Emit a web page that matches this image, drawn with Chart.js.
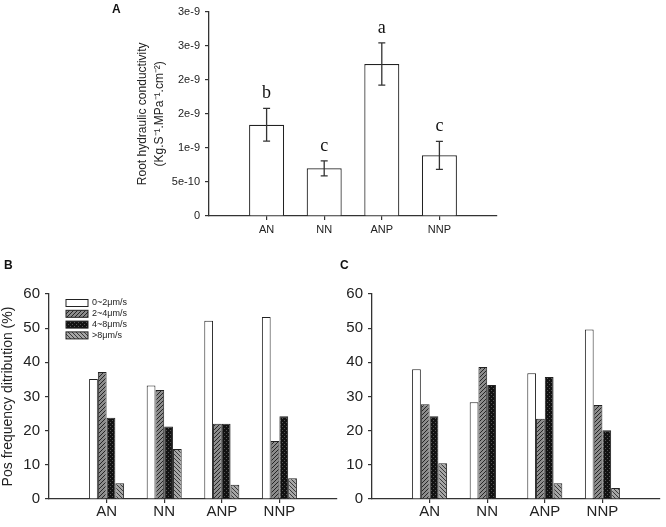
<!DOCTYPE html>
<html>
<head>
<meta charset="utf-8">
<script src="https://cdn.jsdelivr.net/npm/chart.js@4.4.0/dist/chart.umd.min.js"></script>
<style>
  body { margin: 0; background: #fff; width: 666px; height: 527px; position: relative; overflow: hidden; font-family: "Liberation Sans", Arial, sans-serif; }
  canvas { position: absolute; }
  .tag { position: absolute; font-weight: bold; font-size: 12px; color: #111; z-index: 2; }
</style>
</head>
<body>
<span class="tag" style="left:112px;top:2px">A</span>
<span class="tag" style="left:4px;top:258px">B</span>
<span class="tag" style="left:340px;top:258px">C</span>
<canvas id="chartA" width="520" height="245" style="left:0;top:0"></canvas>
<canvas id="chartB" width="345" height="267" style="left:0;top:260px"></canvas>
<canvas id="chartC" width="321" height="267" style="left:345px;top:260px"></canvas>
<script>
const categories = ['AN', 'NN', 'ANP', 'NNP'];

// panel A - root hydraulic conductivity
const conductivity = [1.34e-9, 0.70e-9, 2.23e-9, 0.89e-9];
const conductivityErr = [0.24e-9, 0.11e-9, 0.31e-9, 0.205e-9];
const letters = ['b', 'c', 'a', 'c'];
const yTicksA = ['0', '5e-10', '1e-9', '2e-9', '2e-9', '3e-9', '3e-9'];

// panels B and C - frequency distribution (%)
const speedClasses = ['0~2μm/s', '2~4μm/s', '4~8μm/s', '>8μm/s'];
const freqB_0_2 = [35.1, 33.2, 52.2, 53.3];
const freqB_2_4 = [37.2, 31.9, 22.0, 17.0];
const freqB_4_8 = [23.8, 21.2, 22.0, 24.2];
const freqB_8 = [4.6, 14.6, 4.2, 6.1];
const freqC_0_2 = [38.0, 28.3, 36.8, 49.6];
const freqC_2_4 = [27.7, 38.6, 23.5, 27.5];
const freqC_4_8 = [24.2, 33.4, 35.7, 20.1];
const freqC_8 = [10.5, 0, 4.6, 3.2];

// empty slot on each side, like the original 0..5 axis
const slots = ['', ...categories, ''];
const pad = arr => [null, ...arr, null];

Chart.defaults.font.family = '"Liberation Sans", Arial, sans-serif';
Chart.defaults.color = '#222';

function hatch(bg, fg, dir) {
  const c = document.createElement('canvas');
  c.width = c.height = 4;
  const g = c.getContext('2d');
  g.fillStyle = bg;
  g.fillRect(0, 0, 4, 4);
  if (dir === 0) {
    g.fillStyle = fg;
    g.fillRect(0, 0, 1, 1);
    g.fillRect(2, 2, 1, 1);
  } else {
    g.strokeStyle = fg;
    g.lineWidth = 1;
    g.beginPath();
    if (dir > 0) {
      g.moveTo(0, 4); g.lineTo(4, 0);
      g.moveTo(-1, 1); g.lineTo(1, -1);
      g.moveTo(3, 5); g.lineTo(5, 3);
    } else {
      g.moveTo(0, 0); g.lineTo(4, 4);
      g.moveTo(-1, 3); g.lineTo(1, 5);
      g.moveTo(3, -1); g.lineTo(5, 1);
    }
    g.stroke();
  }
  return g.createPattern(c, 'repeat');
}

const fills = ['#ffffff', hatch('#8c8c8c', '#262626', 1), hatch('#121212', '#555555', 0), hatch('#a6a6a6', '#3a3a3a', -1)];

const axisColor = '#333';

const errorBars = {
  id: 'errorBars',
  afterDatasetsDraw(chart) {
    const ctx = chart.ctx, x = chart.scales.x, y = chart.scales.y;
    ctx.save();
    ctx.strokeStyle = axisColor;
    ctx.lineWidth = 1.3;
    ctx.fillStyle = '#111';
    ctx.font = '18px "Liberation Serif", "Times New Roman", serif';
    ctx.textAlign = 'center';
    ctx.textBaseline = 'alphabetic';
    conductivity.forEach((v, i) => {
      const px = x.getPixelForValue(i + 1);
      const top = y.getPixelForValue(v + conductivityErr[i]);
      const bot = y.getPixelForValue(v - conductivityErr[i]);
      ctx.beginPath();
      ctx.moveTo(px, top); ctx.lineTo(px, bot);
      ctx.moveTo(px - 3.5, top); ctx.lineTo(px + 3.5, top);
      ctx.moveTo(px - 3.5, bot); ctx.lineTo(px + 3.5, bot);
      ctx.stroke();
      ctx.fillText(letters[i], px, top - 10);
    });
    ctx.restore();
  }
};

const boxLegend = {
  id: 'boxLegend',
  afterDraw(chart) {
    const ctx = chart.ctx, a = chart.chartArea;
    ctx.save();
    ctx.font = '9px "Liberation Sans", Arial, sans-serif';
    ctx.textBaseline = 'middle';
    chart.data.datasets.forEach((ds, i) => {
      const yy = a.top + 9 + i * 10.8;
      ctx.fillStyle = ds.backgroundColor;
      ctx.fillRect(a.left + 17, yy - 3.5, 22, 7);
      ctx.strokeStyle = '#222';
      ctx.lineWidth = 1;
      ctx.strokeRect(a.left + 17, yy - 3.5, 22, 7);
      ctx.fillStyle = '#222';
      ctx.fillText(ds.label, a.left + 43, yy);
    });
    ctx.restore();
  }
};

function xScale(fontSize, height, pad) {
  return {
    offset: false,
    grid: {
      offset: false, drawOnChartArea: false, tickLength: 4, lineWidth: 1.2,
      color: c => (c.tick && c.tick.label === '') ? 'rgba(0,0,0,0)' : axisColor
    },
    border: { color: axisColor, width: 1.3 },
    ticks: { font: { size: fontSize }, padding: pad, autoSkip: false, maxRotation: 0 },
    afterFit: s => { s.height = height; }
  };
}

function yScale(max, step, fontSize, width, extra) {
  return Object.assign({
    min: 0, max: max,
    grid: { drawOnChartArea: false, tickLength: 4, color: axisColor, lineWidth: 1.2 },
    border: { color: axisColor, width: 1.3 },
    ticks: { stepSize: step, font: { size: fontSize }, padding: 5 },
    afterFit: s => { s.width = width; }
  }, extra || {});
}

const common = {
  responsive: false,
  animation: false,
  devicePixelRatio: 1,
  plugins: { legend: { display: false }, tooltip: { enabled: false } }
};

const chartA = new Chart(document.getElementById('chartA'), {
  type: 'bar',
  data: {
    labels: slots,
    datasets: [{
      data: pad(conductivity),
      backgroundColor: '#ffffff',
      borderColor: '#222',
      borderWidth: 1.2,
      categoryPercentage: 0.608,
      barPercentage: 1
    }]
  },
  options: Object.assign({}, common, {
    layout: { padding: { top: 5, right: 23, left: 0, bottom: 0 } },
    scales: {
      x: xScale(11, 29, 3),
      y: yScale(3e-9, 5e-10, 11, 209, {
        title: {
          display: true,
          text: ['Root hydraulic conductivity', '(Kg.S⁻¹.MPa⁻¹.cm⁻²)'],
          font: { size: 12, lineHeight: 1.4 },
          color: '#222',
          padding: { top: 134, bottom: 0 }
        }
      })
    }
  }),
  plugins: [errorBars]
});
// tick labels of panel A come from yTicksA
chartA.options.scales.y.ticks.callback = (v, i) => yTicksA[i];
chartA.update();

function freqChart(id, series, yWidth, padRight, withTitle, withLegend) {
  const extra = withTitle ? {
    title: {
      display: true,
      text: 'Pos frequency ditribution (%)',
      font: { size: 14 },
      color: '#222',
      padding: { top: 0, bottom: 0 }
    }
  } : {};
  return new Chart(document.getElementById(id), {
    type: 'bar',
    data: {
      labels: slots,
      datasets: series.map((s, i) => ({
        label: speedClasses[i],
        data: pad(s),
        backgroundColor: fills[i],
        borderColor: '#222',
        borderWidth: 1,
        categoryPercentage: 0.608,
        barPercentage: 1
      }))
    },
    options: Object.assign({}, common, {
      layout: { padding: { top: 34, right: padRight, left: 0, bottom: 0 } },
      scales: {
        x: xScale(15, 28, 0),
        y: yScale(60, 10, 15, yWidth, extra)
      }
    }),
    plugins: withLegend ? [boxLegend] : []
  });
}

freqChart('chartB', [freqB_0_2, freqB_2_4, freqB_4_8, freqB_8], 49, 8, true, true);
freqChart('chartC', [freqC_0_2, freqC_2_4, freqC_4_8, freqC_8], 27, 6, false, false);
</script>
</body>
</html>
